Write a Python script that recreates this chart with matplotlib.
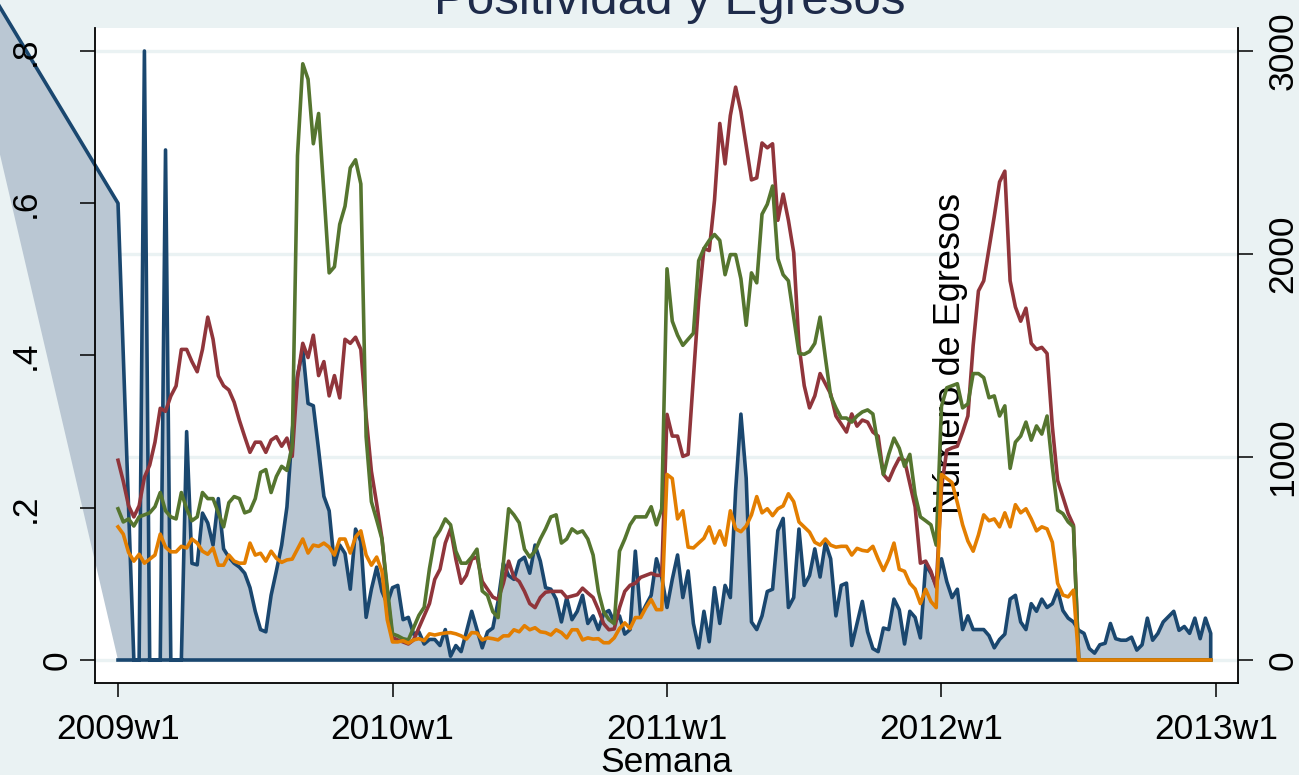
import matplotlib.pyplot as plt

plt.rcParams["font.family"] = ["Liberation Sans", "DejaVu Sans"]

# =====================================================
# DATA (weekly, week 0 = 2009w1)
# =====================================================

lead_week = -33
lead_positividad = 0.98

weeks = list(range(208))

positividad = [
    0.60, 0.40, 0.20, 0.0, 0.0, 0.80, 0.0, 0.0, 0.0, 0.67,
    0.0, 0.0, 0.0, 0.30, 0.127, 0.125, 0.193, 0.180, 0.151, 0.212,
    0.146, 0.135, 0.127, 0.122, 0.114, 0.095, 0.064, 0.040, 0.037, 0.085,
    0.117, 0.151, 0.201, 0.300, 0.374, 0.408, 0.337, 0.334, 0.276, 0.215,
    0.196, 0.125, 0.151, 0.140, 0.093, 0.172, 0.156, 0.056, 0.093, 0.122,
    0.090, 0.074, 0.095, 0.098, 0.053, 0.056, 0.034, 0.037, 0.021, 0.027,
    0.027, 0.019, 0.040, 0.005, 0.019, 0.011, 0.037, 0.064, 0.040, 0.016,
    0.037, 0.042, 0.077, 0.127, 0.111, 0.106, 0.130, 0.135, 0.114, 0.151,
    0.130, 0.095, 0.093, 0.080, 0.050, 0.082, 0.053, 0.064, 0.085, 0.048,
    0.058, 0.040, 0.061, 0.065, 0.050, 0.058, 0.034, 0.040, 0.143, 0.058,
    0.072, 0.085, 0.133, 0.109, 0.069, 0.106, 0.138, 0.082, 0.117, 0.048,
    0.016, 0.064, 0.024, 0.095, 0.048, 0.098, 0.082, 0.223, 0.323, 0.239,
    0.050, 0.040, 0.058, 0.090, 0.093, 0.170, 0.186, 0.069, 0.082, 0.172,
    0.098, 0.111, 0.146, 0.109, 0.154, 0.133, 0.058, 0.098, 0.101, 0.019,
    0.048, 0.077, 0.037, 0.015, 0.011, 0.042, 0.040, 0.080, 0.066, 0.021,
    0.064, 0.056, 0.029, 0.125, 0.114, 0.098, 0.133, 0.103, 0.082, 0.093,
    0.040, 0.058, 0.040, 0.040, 0.040, 0.032, 0.016, 0.027, 0.034, 0.080,
    0.085, 0.050, 0.040, 0.074, 0.064, 0.080, 0.069, 0.074, 0.092, 0.065,
    0.055, 0.050, 0.039, 0.035, 0.015, 0.009, 0.020, 0.022, 0.048, 0.028,
    0.026, 0.026, 0.030, 0.013, 0.020, 0.055, 0.026, 0.035, 0.050, 0.057,
    0.064, 0.039, 0.044, 0.035, 0.055, 0.028, 0.055, 0.035
]

egresos_1 = [
    984, 880, 760, 705, 760, 900, 960, 1073, 1240, 1225,
    1300, 1350, 1530, 1530, 1470, 1420, 1530, 1689, 1580, 1400,
    1351, 1330, 1270, 1180, 1100, 1023, 1073, 1073, 1023, 1083,
    1100, 1053, 1093, 1003, 1391, 1560, 1490, 1600, 1401, 1470,
    1301, 1401, 1291, 1580, 1560, 1590, 1530, 1200, 930, 770,
    600, 330, 110, 99, 89, 79, 99, 159, 219, 278,
    397, 447, 576, 646, 497, 378, 417, 497, 507, 387,
    348, 310, 298, 378, 487, 407, 387, 338, 278, 258,
    308, 334, 338, 338, 338, 308, 315, 322, 354, 330,
    308, 248, 179, 149, 153, 258, 338, 368, 378, 407,
    417, 427, 417, 417, 1210, 1103, 1103, 1003, 1013, 1391,
    1768, 2027, 2017, 2265, 2643, 2444, 2682, 2822, 2702, 2533,
    2365, 2375, 2547, 2523, 2543, 2166, 2295, 2166, 2007, 1550,
    1351, 1242, 1301, 1411, 1361, 1311, 1202, 1162, 1123, 1212,
    1152, 1182, 1172, 1123, 1103, 914, 884, 944, 994, 984,
    870, 755, 477, 487, 437, 358, 850, 1033, 1045, 1053,
    1123, 1202, 1550, 1818, 1868, 2027, 2186, 2355, 2408, 1868,
    1739, 1669, 1733, 1560, 1530, 1540, 1510, 1150, 885, 803,
    721, 664, 0, 0, 0, 0, 0, 0, 0, 0,
    0, 0, 0, 0, 0, 0, 0, 0, 0, 0,
    0, 0, 0, 0, 0, 0, 0, 0
]

egresos_2 = [
    745, 680, 695, 660, 705, 715, 725, 755, 825, 735,
    705, 695, 825, 745, 686, 705, 825, 795, 795, 725,
    656, 775, 805, 795, 725, 735, 795, 924, 938, 825,
    904, 954, 934, 1053, 2484, 2937, 2861, 2543, 2692, 2305,
    1907, 1937, 2146, 2235, 2424, 2464, 2345, 1100, 780, 690,
    596, 358, 129, 119, 105, 99, 160, 220, 260, 450,
    600, 640, 695, 666, 536, 477, 477, 507, 546, 340,
    318, 238, 209, 477, 745, 715, 676, 546, 507, 536,
    596, 646, 705, 715, 576, 596, 646, 626, 636, 596,
    517, 338, 238, 199, 179, 536, 596, 666, 705, 705,
    705, 755, 666, 745, 1927, 1669, 1600, 1550, 1580, 1610,
    1967, 2027, 2067, 2096, 2067, 1898, 1997, 1997, 1878, 1649,
    1907, 1858, 2196, 2245, 2335, 1977, 1898, 1868, 1689, 1510,
    1506, 1520, 1560, 1689, 1490, 1301, 1242, 1192, 1192, 1172,
    1202, 1222, 1232, 1212, 1053, 914, 1013, 1093, 1043, 954,
    1013, 815, 705, 686, 666, 566, 1250, 1341, 1351, 1361,
    1242, 1262, 1411, 1411, 1391, 1292, 1301, 1202, 1252, 944,
    1073, 1103, 1172, 1083, 1153, 1113, 1202, 951, 738, 721,
    680, 656, 0, 0, 0, 0, 0, 0, 0, 0,
    0, 0, 0, 0, 0, 0, 0, 0, 0, 0,
    0, 0, 0, 0, 0, 0, 0, 0
]

egresos_3 = [
    656, 620, 530, 487, 521, 477, 497, 517, 620, 556,
    533, 533, 560, 552, 596, 576, 536, 521, 552, 467,
    467, 517, 487, 477, 477, 576, 517, 526, 487, 536,
    501, 481, 493, 497, 546, 596, 527, 566, 560, 576,
    556, 517, 596, 596, 527, 606, 636, 517, 467, 507,
    437, 199, 89, 89, 95, 83, 99, 105, 95, 129,
    123, 129, 133, 135, 129, 119, 103, 135, 133, 99,
    109, 105, 99, 119, 119, 149, 139, 169, 149, 159,
    139, 135, 123, 149, 135, 109, 149, 149, 99, 109,
    103, 105, 85, 85, 109, 155, 183, 155, 209, 209,
    258, 298, 248, 248, 914, 894, 695, 735, 556, 552,
    576, 600, 656, 576, 636, 566, 735, 646, 632, 660,
    715, 805, 725, 745, 711, 745, 759, 819, 780, 680,
    655, 630, 580, 566, 596, 566, 556, 560, 560, 517,
    550, 540, 536, 560, 497, 441, 497, 576, 447, 437,
    378, 350, 278, 348, 288, 258, 914, 894, 874, 775,
    666, 586, 536, 616, 715, 686, 695, 656, 725, 656,
    765, 725, 745, 695, 636, 656, 646, 580, 378, 320,
    311, 344, 0, 0, 0, 0, 0, 0, 0, 0,
    0, 0, 0, 0, 0, 0, 0, 0, 0, 0,
    0, 0, 0, 0, 0, 0, 0, 0
]

week_ticks = [0, 52, 104, 156, 208]
week_labels = ["2009w1", "2010w1", "2011w1", "2012w1", "2013w1"]

left_ticks = [0, 0.2, 0.4, 0.6, 0.8]
left_labels = ["0", ".2", ".4", ".6", ".8"]

right_ticks = [0, 1000, 2000, 3000]
right_labels = ["0", "1000", "2000", "3000"]

# right axis units per left axis unit
scale = 3750

# =====================================================
# STYLE
# =====================================================

BG = "#eaf2f3"
NAVY = "#1a476f"
FILL = "#bac7d3"
MAROON = "#90353b"
GREEN = "#55752f"
ORANGE = "#e37e00"
FS = 25.5
LW = 2.6

fig = plt.figure(figsize=(12.99, 7.75), dpi=100, facecolor=BG)

ax = fig.add_axes([95 / 1299, 92 / 775, 1143 / 1299, 655 / 775])
ax.set_facecolor("white")
ax2 = ax.twinx()
ax2.patch.set_visible(False)

ax.set_xlim(-4.36, 212.17)
ax.set_ylim(-0.0302, 0.8302)
ax2.set_ylim(-0.0302 * scale, 0.8302 * scale)

# =====================================
# Gridlines (right axis values)
# =====================================

for v in right_ticks:
    ax.axhline(v / scale, color=BG, linewidth=2.4, zorder=0.5)

# =====================================
# Area: positividad
# =====================================

area_x = [lead_week] + weeks + [weeks[-1], weeks[0]]
area_y = [lead_positividad] + positividad + [0, 0]

ax.fill(area_x, area_y, color=FILL, linewidth=0, clip_on=False, zorder=1)
ax.plot(area_x, area_y, color=NAVY, linewidth=LW, clip_on=False, zorder=2)

# =====================================
# Lines: egresos
# =====================================

for values, color in [
    (egresos_1, MAROON),
    (egresos_2, GREEN),
    (egresos_3, ORANGE),
]:
    ax2.plot(weeks, values, color=color, linewidth=LW, zorder=3)

# =====================================
# Spines & ticks
# =====================================

ax.spines["top"].set_visible(False)
ax.spines["right"].set_visible(False)
ax2.spines["top"].set_visible(False)
ax2.spines["left"].set_visible(False)
ax2.spines["bottom"].set_visible(False)

for s in ["left", "bottom"]:
    ax.spines[s].set_linewidth(1.3)
ax2.spines["right"].set_linewidth(1.3)

ax.set_xticks(week_ticks, week_labels)
ax.tick_params(axis="x", length=10.2, width=1.1, pad=11.5, labelsize=FS)

ax.set_yticks(left_ticks)
ax.set_yticklabels([])
ax.tick_params(axis="y", length=10.8, width=1.1)

ax2.set_yticks(right_ticks)
ax2.set_yticklabels([])
ax2.tick_params(axis="y", length=10.8, width=1.1)

ytrans = ax.get_yaxis_transform()
for v, lab in zip(left_ticks, left_labels):
    xpos = -0.0245 if v == 0 else -0.0525
    ax.text(xpos, v, lab, transform=ytrans, rotation=90,
            rotation_mode="anchor", ha="center", va="baseline",
            fontsize=FS, clip_on=False, zorder=5)

ytrans2 = ax2.get_yaxis_transform()
for v, lab in zip(right_ticks, right_labels):
    ax2.text(1.0475, v, lab, transform=ytrans2, rotation=90,
             rotation_mode="anchor", ha="center", va="baseline",
             fontsize=FS, clip_on=False)

# =====================================
# Labels & title
# =====================================

ax.set_xlabel("Semana", fontsize=FS, labelpad=0)

ax2.set_ylabel("Número de Egresos", fontsize=26, rotation=90,
               rotation_mode="anchor", ha="center", va="baseline")
ax2.yaxis.set_label_coords(0.757, 0.503)

fig.text(670 / 1299, 1 - 14 / 775, "Positividad y Egresos",
         ha="center", va="baseline", fontsize=35.5, color="#1e2b4a")

fig.savefig("out.png", dpi=100, facecolor=BG)
